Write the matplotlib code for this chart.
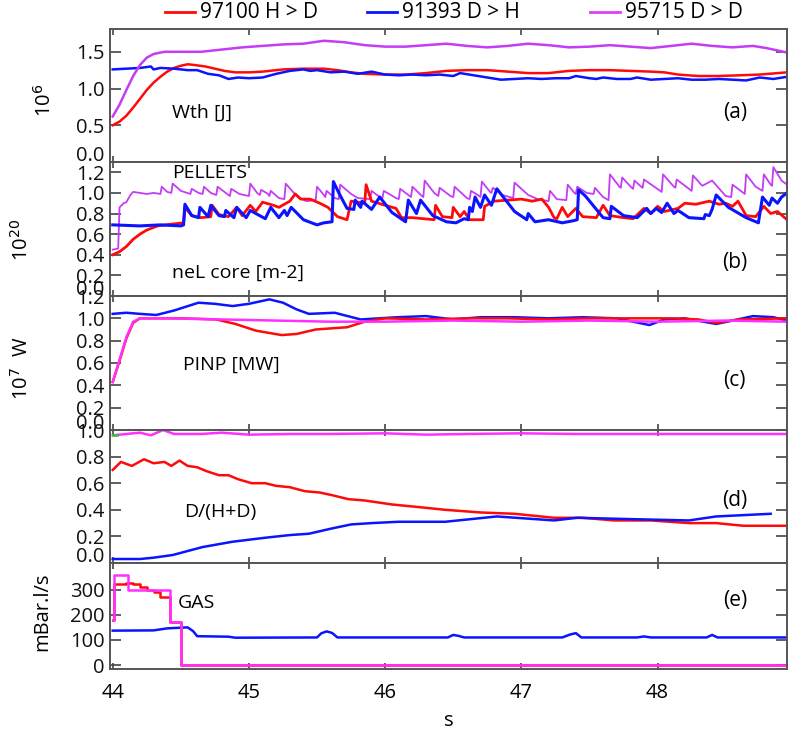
import matplotlib
matplotlib.use("Agg")
import matplotlib.pyplot as plt
from matplotlib.lines import Line2D
import matplotlib.transforms as mtransforms

plt.rcParams['font.family'] = ['Open Sans', 'DejaVu Sans']

# ---------------- data ----------------
series_names = ["97100 H > D", "91393 D > H", "95715 D > D"]

# (a) Wth [J] (x1e6)
wth_red_t = [44.00, 44.05, 44.10, 44.15, 44.20, 44.25, 44.30, 44.35, 44.40, 44.45, 44.50, 44.55, 44.60, 44.68,
             44.75, 44.82, 44.90, 45.00, 45.10, 45.25, 45.40, 45.55, 45.65, 45.75, 45.85, 46.00, 46.15, 46.30,
             46.45, 46.60, 46.75, 46.90, 47.05, 47.20, 47.35, 47.50, 47.65, 47.80, 47.95, 48.05, 48.15,
             48.30, 48.45, 48.60, 48.75, 48.95]
wth_red_v = [0.50, 0.55, 0.63, 0.74, 0.86, 0.98, 1.08, 1.16, 1.23, 1.28, 1.31, 1.33, 1.32, 1.30,
             1.27, 1.24, 1.22, 1.22, 1.23, 1.26, 1.27, 1.27, 1.25, 1.22, 1.20, 1.19, 1.19, 1.21,
             1.24, 1.25, 1.25, 1.23, 1.21, 1.21, 1.24, 1.25, 1.25, 1.24, 1.23, 1.22, 1.19,
             1.17, 1.17, 1.18, 1.19, 1.22]
wth_blue_t = [44.00, 44.10, 44.20, 44.28, 44.30, 44.35, 44.45, 44.55, 44.62, 44.70, 44.78, 44.85, 44.92,
              45.00, 45.10, 45.20, 45.30, 45.40, 45.45, 45.50, 45.60, 45.70, 45.80, 45.90, 46.00,
              46.10, 46.20, 46.30, 46.40, 46.50, 46.55, 46.65, 46.75, 46.85, 46.95, 47.05, 47.15,
              47.25, 47.35, 47.40, 47.50, 47.55, 47.60, 47.70, 47.80, 47.85, 47.95, 48.05, 48.15,
              48.25, 48.35, 48.45, 48.55, 48.65, 48.75, 48.85, 48.95]
wth_blue_v = [1.26, 1.27, 1.28, 1.30, 1.26, 1.28, 1.27, 1.25, 1.25, 1.20, 1.18, 1.13, 1.15,
              1.14, 1.15, 1.20, 1.24, 1.26, 1.24, 1.25, 1.22, 1.23, 1.20, 1.23, 1.19,
              1.18, 1.19, 1.18, 1.19, 1.17, 1.21, 1.18, 1.15, 1.12, 1.13, 1.14, 1.13,
              1.14, 1.14, 1.17, 1.14, 1.13, 1.15, 1.13, 1.13, 1.15, 1.12, 1.13, 1.14,
              1.12, 1.12, 1.13, 1.12, 1.11, 1.15, 1.13, 1.16]
wth_mag_t = [44.00, 44.05, 44.10, 44.15, 44.20, 44.25, 44.30, 44.38, 44.50, 44.65, 44.80, 44.95, 45.10,
             45.25, 45.40, 45.55, 45.70, 45.85, 46.00, 46.15, 46.30, 46.45, 46.60, 46.75, 46.90, 47.05,
             47.20, 47.35, 47.50, 47.65, 47.80, 47.95, 48.10, 48.25, 48.40, 48.55, 48.70, 48.80, 48.95]
wth_mag_v = [0.62, 0.78, 0.98, 1.17, 1.32, 1.42, 1.47, 1.50, 1.50, 1.50, 1.53, 1.56, 1.58,
             1.60, 1.61, 1.65, 1.63, 1.59, 1.57, 1.57, 1.59, 1.61, 1.58, 1.56, 1.58, 1.61,
             1.59, 1.56, 1.57, 1.59, 1.57, 1.55, 1.58, 1.61, 1.58, 1.56, 1.58, 1.55, 1.49]

# (b) neL core [m-2] (x1e20)
nel_mag_t = [44.00, 44.04, 44.05, 44.08, 44.10, 44.13, 44.15, 44.25, 44.30, 44.35, 44.36, 44.40, 44.43, 44.44,
             44.50, 44.57, 44.58, 44.63, 44.66, 44.67, 44.72, 44.76, 44.77, 44.83, 44.86, 44.87, 44.93,
             45.00, 45.01, 45.06, 45.08, 45.09, 45.14, 45.15, 45.16, 45.22, 45.26, 45.27, 45.35, 45.42,
             45.49, 45.50, 45.55, 45.56, 45.57, 45.63, 45.66, 45.67, 45.75, 45.80, 45.89, 45.90, 45.96,
             45.98, 45.99, 46.08, 46.10, 46.11, 46.18, 46.19, 46.20, 46.27, 46.28, 46.29, 46.36, 46.39,
             46.40, 46.48, 46.50, 46.51, 46.60, 46.62, 46.63, 46.68, 46.70, 46.71, 46.77, 46.78, 46.79,
             46.86, 46.94, 46.95, 47.05, 47.12, 47.20, 47.21, 47.26, 47.33, 47.34, 47.39, 47.40, 47.41,
             47.48, 47.53, 47.54, 47.60, 47.64, 47.65, 47.72, 47.73, 47.74, 47.81, 47.82, 47.83, 47.88,
             47.89, 47.90, 48.02, 48.03, 48.04, 48.12, 48.13, 48.14, 48.24, 48.25, 48.26, 48.32, 48.33,
             48.40, 48.50, 48.54, 48.55, 48.63, 48.64, 48.65, 48.72, 48.77, 48.78, 48.83, 48.84, 48.85,
             48.91, 48.95]
nel_mag_v = [0.45, 0.46, 0.86, 0.90, 0.91, 0.98, 1.01, 0.99, 1.00, 0.99, 1.06, 1.01, 1.00, 1.09,
             1.02, 0.99, 1.04, 1.00, 0.99, 1.06, 1.00, 0.98, 1.06, 1.00, 0.97, 1.04, 0.99,
             0.97, 1.09, 1.00, 0.98, 1.03, 0.99, 0.97, 1.02, 0.95, 0.94, 1.09, 0.97, 0.92,
             0.93, 1.06, 0.98, 0.96, 1.02, 0.95, 0.94, 1.08, 0.99, 0.95, 0.94, 1.02, 0.96,
             0.95, 1.02, 0.95, 0.94, 1.04, 0.97, 0.96, 1.06, 0.97, 0.96, 1.12, 1.00, 0.97,
             1.05, 0.97, 0.96, 1.06, 0.95, 0.94, 1.02, 0.98, 0.96, 1.11, 1.01, 1.00, 1.05,
             0.98, 0.95, 1.10, 0.98, 0.94, 0.92, 1.02, 0.94, 0.93, 1.08, 1.00, 0.99, 1.06,
             1.00, 0.99, 1.05, 0.96, 0.93, 1.18, 1.06, 1.05, 1.15, 1.05, 1.04, 1.12, 1.06,
             1.05, 1.13, 1.02, 1.01, 1.18, 1.06, 1.05, 1.13, 1.03, 1.02, 1.17, 1.08, 1.07,
             1.12, 0.97, 0.96, 1.08, 1.00, 0.99, 1.18, 1.06, 1.02, 1.18, 1.08, 1.07, 1.25,
             1.12, 1.08]
nel_blue_t = [44.00, 44.20, 44.35, 44.50, 44.52, 44.53, 44.58, 44.63, 44.64, 44.70, 44.72, 44.78, 44.82, 44.83,
              44.89, 44.91, 44.98, 45.01, 45.12, 45.16, 45.22, 45.26, 45.28, 45.31, 45.40, 45.50, 45.55,
              45.61, 45.62, 45.66, 45.72, 45.77, 45.78, 45.82, 45.83, 45.90, 45.96, 46.05, 46.15, 46.17,
              46.23, 46.26, 46.35, 46.45, 46.52, 46.58, 46.61, 46.62, 46.64, 46.66, 46.70, 46.73, 46.78,
              46.82, 46.95, 47.04, 47.05, 47.10, 47.20, 47.30, 47.38, 47.41, 47.42, 47.47, 47.60, 47.65,
              47.66, 47.75, 47.85, 47.92, 47.95, 47.99, 48.03, 48.07, 48.12, 48.15, 48.23, 48.34, 48.35,
              48.38, 48.40, 48.43, 48.52, 48.65, 48.74, 48.77, 48.82, 48.84, 48.88, 48.91, 48.95]
nel_blue_v = [0.69, 0.68, 0.69, 0.68, 0.69, 0.89, 0.78, 0.76, 0.86, 0.77, 0.88, 0.78, 0.77, 0.83,
              0.76, 0.86, 0.76, 0.83, 0.75, 0.86, 0.76, 0.83, 0.78, 0.86, 0.74, 0.69, 0.71,
              0.72, 1.11, 1.00, 0.85, 0.84, 0.93, 0.86, 0.92, 0.84, 0.96, 0.81, 0.72, 0.93,
              0.80, 0.93, 0.78, 0.72, 0.71, 0.75, 0.74, 0.86, 0.82, 0.96, 0.86, 0.98, 0.88,
              1.04, 0.82, 0.74, 0.80, 0.72, 0.74, 0.71, 0.73, 0.74, 1.03, 0.97, 0.76, 0.75,
              0.87, 0.78, 0.76, 0.85, 0.80, 0.85, 0.81, 0.90, 0.80, 0.83, 0.76, 0.75, 0.79,
              0.78, 0.84, 0.98, 0.86, 0.76, 0.71, 0.96, 0.88, 0.95, 0.90, 0.96, 1.00]
nel_red_t = [44.00, 44.05, 44.10, 44.15, 44.20, 44.25, 44.33, 44.45, 44.52, 44.53, 44.58, 44.65, 44.72, 44.73,
             44.78, 44.85, 44.91, 44.95, 45.01, 45.05, 45.10, 45.18, 45.22, 45.30, 45.34, 45.38, 45.45,
             45.52, 45.58, 45.65, 45.72, 45.75, 45.85, 45.86, 45.90, 46.00, 46.08, 46.12, 46.20, 46.28,
             46.36, 46.37, 46.42, 46.49, 46.50, 46.55, 46.58, 46.62, 46.72, 46.73, 46.80, 46.90, 47.00,
             47.08, 47.15, 47.20, 47.24, 47.26, 47.30, 47.34, 47.40, 47.45, 47.55, 47.60, 47.65, 47.75,
             47.82, 47.90, 47.95, 48.00, 48.05, 48.15, 48.20, 48.28, 48.38, 48.45, 48.50, 48.55, 48.59,
             48.65, 48.72, 48.78, 48.83, 48.88, 48.95]
nel_red_v = [0.40, 0.43, 0.48, 0.55, 0.60, 0.64, 0.68, 0.70, 0.71, 0.86, 0.78, 0.76, 0.77, 0.88,
             0.79, 0.77, 0.86, 0.78, 0.88, 0.82, 0.91, 0.88, 0.86, 0.92, 0.99, 0.94, 0.94,
             0.90, 0.86, 0.77, 0.74, 0.92, 0.90, 1.08, 0.92, 0.88, 0.85, 0.76, 0.76, 0.75,
             0.74, 0.88, 0.77, 0.76, 0.86, 0.77, 0.82, 0.74, 0.74, 0.87, 0.92, 0.93, 0.94,
             0.92, 0.94, 0.86, 0.76, 0.75, 0.86, 0.77, 0.85, 0.77, 0.76, 0.88, 0.78, 0.76,
             0.75, 0.85, 0.80, 0.87, 0.82, 0.85, 0.90, 0.89, 0.92, 0.89, 0.90, 0.87, 0.92,
             0.78, 0.77, 0.87, 0.80, 0.82, 0.74]

# (c) PINP [MW] (x1e7 W)
pinp_red_t = [44.00, 44.05, 44.10, 44.15, 44.20, 44.30, 44.50, 44.76, 44.90, 45.05, 45.24, 45.35, 45.49, 45.60,
              45.72, 45.85, 46.00, 46.30, 46.60, 46.90, 47.20, 47.50, 47.80, 48.10, 48.30, 48.43, 48.60, 48.95]
pinp_red_v = [0.43, 0.62, 0.82, 0.96, 1.00, 1.00, 1.00, 0.99, 0.95, 0.89, 0.85, 0.86, 0.90, 0.91,
              0.92, 0.97, 1.00, 0.99, 1.00, 1.00, 0.99, 1.00, 1.00, 1.00, 0.99, 0.96, 0.99, 1.00]
pinp_blue_t = [44.00, 44.10, 44.20, 44.32, 44.45, 44.63, 44.75, 44.88, 45.00, 45.15, 45.25, 45.35, 45.44,
               45.63, 45.82, 46.09, 46.30, 46.50, 46.70, 46.95, 47.20, 47.45, 47.70, 47.82, 47.94,
               48.05, 48.20, 48.43, 48.55, 48.70, 48.85, 48.95]
pinp_blue_v = [1.04, 1.05, 1.04, 1.03, 1.07, 1.14, 1.13, 1.11, 1.13, 1.17, 1.14, 1.08, 1.04,
               1.05, 0.99, 1.01, 1.02, 0.99, 1.01, 1.01, 1.00, 1.01, 1.00, 0.97, 0.94,
               0.99, 1.00, 0.95, 0.98, 1.02, 1.01, 0.98]
pinp_mag_t = [44.00, 44.05, 44.10, 44.15, 44.20, 44.40, 44.80, 45.20, 45.60, 46.00, 46.50, 47.00, 47.50,
              48.00, 48.50, 48.95]
pinp_mag_v = [0.43, 0.63, 0.83, 0.97, 1.00, 1.00, 0.99, 0.98, 0.97, 0.97, 0.98, 0.97, 0.98,
              0.97, 0.98, 0.97]

# (d) D/(H+D)
dh_red_t = [44.00, 44.06, 44.14, 44.23, 44.30, 44.38, 44.43, 44.49, 44.55, 44.62, 44.69, 44.78, 44.85,
            44.92, 45.02, 45.12, 45.20, 45.30, 45.41, 45.52, 45.61, 45.73, 45.85, 46.05, 46.25, 46.44,
            46.70, 46.95, 47.24, 47.45, 47.68, 47.95, 48.23, 48.43, 48.63, 48.95]
dh_red_v = [0.70, 0.76, 0.73, 0.78, 0.75, 0.76, 0.73, 0.77, 0.73, 0.72, 0.69, 0.66, 0.66,
            0.63, 0.60, 0.60, 0.58, 0.57, 0.54, 0.53, 0.51, 0.48, 0.47, 0.44, 0.42, 0.40,
            0.38, 0.37, 0.34, 0.34, 0.32, 0.32, 0.30, 0.30, 0.28, 0.28]
dh_blue_t = [44.00, 44.20, 44.30, 44.44, 44.55, 44.66, 44.88, 45.12, 45.30, 45.44, 45.61, 45.75, 45.90,
             46.10, 46.44, 46.82, 47.24, 47.41, 47.80, 48.23, 48.43, 48.83]
dh_blue_v = [0.03, 0.03, 0.04, 0.06, 0.09, 0.12, 0.16, 0.19, 0.21, 0.22, 0.26, 0.29, 0.30,
             0.31, 0.31, 0.35, 0.32, 0.34, 0.33, 0.32, 0.35, 0.37]
dh_mag_t = [44.00, 44.10, 44.20, 44.28, 44.37, 44.45, 44.55, 44.65, 44.80, 45.00, 45.30, 45.60, 46.00,
            46.30, 46.60, 47.00, 47.40, 47.80, 48.20, 48.60, 48.95]
dh_mag_v = [0.96, 0.97, 0.98, 0.96, 1.00, 0.97, 0.97, 0.97, 0.98, 0.965, 0.97, 0.97, 0.975,
            0.965, 0.97, 0.975, 0.97, 0.97, 0.97, 0.97, 0.97]
dh_green_t = [44.00, 44.03]
dh_green_v = [0.96, 0.96]

# (e) GAS [mBar.l/s]
gas_red_t = [44.00, 44.01, 44.03, 44.10, 44.15, 44.20, 44.25, 44.30, 44.35, 44.42, 44.50, 48.95]
gas_red_v = [180, 320, 322, 325, 320, 310, 300, 290, 270, 172, 0, 0]
gas_mag_t = [44.00, 44.01, 44.11, 44.42, 44.50, 48.95]
gas_mag_v = [180, 357, 300, 172, 0, 0]
gas_blue_t = [44.00, 44.30, 44.40, 44.55, 44.59, 44.62, 44.85, 44.90, 45.50, 45.53, 45.57, 45.61, 45.65,
              46.46, 46.50, 46.54, 46.58, 47.30, 47.36, 47.40, 47.44, 47.85, 47.90, 47.95, 48.36,
              48.40, 48.44, 48.95]
gas_blue_v = [137, 138, 146, 150, 135, 115, 113, 109, 110, 126, 134, 128, 110,
              110, 120, 116, 110, 110, 122, 127, 110, 110, 114, 110, 110,
              120, 110, 110]

# ---------------- figure ----------------
RED = "#ff0a0a"
BLUE = "#0a14ff"
VIOLET = "#c43cf5"
MAGENTA = "#ff30ff"
SPINE = "#555555"

fig = plt.figure(figsize=(7.89, 7.31), dpi=100)
W, H = 789.0, 731.0
left_px, right_px = 110, 787
bounds = [(29, 162), (162, 296), (296, 430), (430, 563), (563, 669)]
axes = []
for top, bot in bounds:
    ax = fig.add_axes([left_px / W, 1 - bot / H, (right_px - left_px) / W, (bot - top) / H])
    axes.append(ax)
axa, axb, axc, axd, axe = axes

lw = 1.8
axa.plot(wth_red_t, wth_red_v, color=RED, lw=lw)
axa.plot(wth_blue_t, wth_blue_v, color=BLUE, lw=lw)
axa.plot(wth_mag_t, wth_mag_v, color=VIOLET, lw=lw)
axa.set_ylim(0, 1.81)
axa.set_yticks([0.0, 0.5, 1.0, 1.5])

axb.plot(nel_mag_t, nel_mag_v, color=VIOLET, lw=1.3)
axb.plot(nel_red_t, nel_red_v, color=RED, lw=2.0)
axb.plot(nel_blue_t, nel_blue_v, color=BLUE, lw=2.2)
axb.set_ylim(0, 1.30)
axb.set_yticks([0.0, 0.2, 0.4, 0.6, 0.8, 1.0, 1.2])

axc.plot(pinp_blue_t, pinp_blue_v, color=BLUE, lw=lw)
axc.plot(pinp_red_t, pinp_red_v, color=RED, lw=lw)
axc.plot(pinp_mag_t, pinp_mag_v, color=MAGENTA, lw=lw)
axc.set_ylim(0, 1.2)
axc.set_yticks([0.0, 0.2, 0.4, 0.6, 0.8, 1.0, 1.2])

axd.plot(dh_red_t, dh_red_v, color=RED, lw=lw)
axd.plot(dh_blue_t, dh_blue_v, color=BLUE, lw=lw)
axd.plot(dh_mag_t, dh_mag_v, color=MAGENTA, lw=lw)
axd.plot(dh_green_t, dh_green_v, color="#22cc22", lw=lw)
axd.set_ylim(0, 1.0)
axd.set_yticks([0.0, 0.2, 0.4, 0.6, 0.8, 1.0])

axe.step(gas_blue_t, gas_blue_v, where='post', color=BLUE, lw=lw) if False else axe.plot(gas_blue_t, gas_blue_v, color=BLUE, lw=lw)
axe.step(gas_red_t, gas_red_v, where='post', color=RED, lw=lw)
axe.step(gas_mag_t, gas_mag_v, where='post', color=MAGENTA, lw=lw)
axe.set_ylim(-15, 405)
axe.set_yticks([0, 100, 200, 300])

for ax in axes:
    ax.set_xlim(43.98, 48.95)
    ax.set_xticks([44, 45, 46, 47, 48])
    for s in ax.spines.values():
        s.set_color(SPINE)
        s.set_linewidth(1.4)
    ax.tick_params(axis='y', which='both', direction='in', length=8, width=1.2, color='#444444',
                   left=True, right=True, labelsize=14.5, pad=4, labelcolor='#111111')
    ax.tick_params(axis='x', which='both', direction='in', length=4, width=1.2, color='#444444',
                   top=True, bottom=True, labelbottom=False, labelsize=14.5)
axe.tick_params(axis='x', labelbottom=True, pad=10)
axe.set_xlabel("s", fontsize=14.5, labelpad=6)

# shift lowest tick label upward (inside the panel) for panels a-d
fig.canvas.draw()
for ax in [axa, axb, axc, axd]:
    lbl = ax.get_yticklabels()[0]
    lbl.set_transform(lbl.get_transform() + mtransforms.ScaledTranslation(0, 6 / 72, fig.dpi_scale_trans))

# annotations
afs = 14
axa.text(0.092, 0.37, "Wth [J]", transform=axa.transAxes, fontsize=afs, va='center')
axb.text(0.092, 0.92, "PELLETS", transform=axb.transAxes, fontsize=afs, va='center')
axb.text(0.092, 0.17, "neL core [m-2]", transform=axb.transAxes, fontsize=afs, va='center')
axc.text(0.108, 0.485, "PINP [MW]", transform=axc.transAxes, fontsize=afs, va='center')
axd.text(0.11, 0.38, "D/(H+D)", transform=axd.transAxes, fontsize=afs, va='center')
axe.text(0.10, 0.62, "GAS", transform=axe.transAxes, fontsize=afs, va='center')

for ax, lab, y in [(axa, "(a)", 0.37), (axb, "(b)", 0.25), (axc, "(c)", 0.37), (axd, "(d)", 0.47), (axe, "(e)", 0.65)]:
    ax.text(0.923, y, lab, transform=ax.transAxes, fontsize=15, ha='center', va='center')

# y labels
fig.text(45 / W, 1 - 100 / H, r"10$^{6}$", rotation=90, fontsize=14.5, ha='center', va='center')
fig.text(22 / W, 1 - 240 / H, r"10$^{20}$", rotation=90, fontsize=14.5, ha='center', va='center')
fig.text(22 / W, 1 - 368 / H, r"10$^{7}$  W", rotation=90, fontsize=14.5, ha='center', va='center')
fig.text(42 / W, 1 - 612 / H, "mBar.l/s", rotation=90, fontsize=14.5, ha='center', va='center')

# legend (top)
leg_colors = [RED, BLUE, "#e040f5"]
leg_line_x = [(165, 195), (367, 397), (590, 620)]
for name, col, (x0, x1) in zip(series_names, leg_colors, leg_line_x):
    fig.add_artist(Line2D([x0 / W, x1 / W], [1 - 12 / H, 1 - 12 / H], color=col, lw=2))
    fig.text((x1 + 5) / W, 1 - 12 / H, name, fontsize=15, ha='left', va='center')

fig.savefig("out.png", dpi=100)
